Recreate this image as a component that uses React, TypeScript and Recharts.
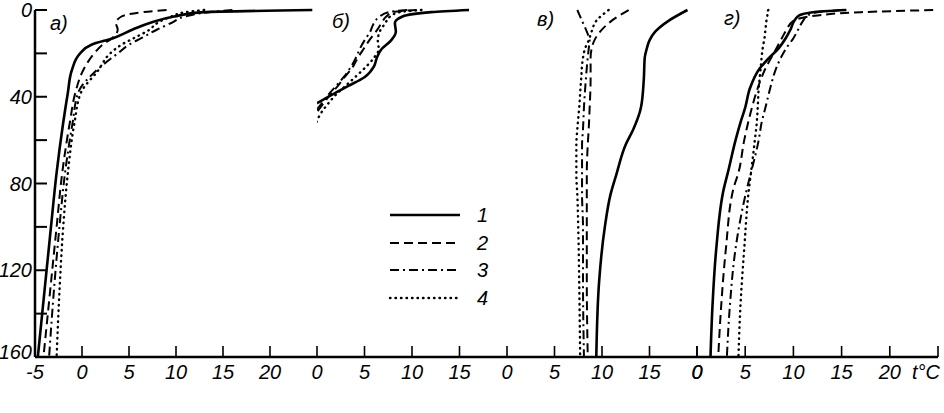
import React from "react";
import { LineChart, Line, XAxis, YAxis } from "recharts";

// depth, m — shared y axis (0 at top)
const DEPTH_TICKS = [0, 20, 40, 60, 80, 100, 120, 140, 160];
const DEPTH_LABELS = [0, 40, 80, 120, 160];

// panel а
const A_DEPTH = [0, 1, 3, 6, 9, 13, 16, 20, 28, 38, 52, 75, 100, 130, 160];
const A_T1 = [24.5, 13, 9.8, 7.2, 5.4, 3.3, 1.0, -0.2, -1.1, -1.5, -2.0, -2.7, -3.3, -4.0, -4.7];
const A_T2 = [9, 6.5, 4.2, 3.6, 3.8, 3.2, 2.2, 1.3, 0.1, -0.7, -1.3, -2.1, -2.7, -3.4, -4.1];
const A_T3 = [16, 13.5, 11, 9.5, 8, 6.3, 5, 3.8, 1.5, -0.4, -1.0, -1.8, -2.4, -3.0, -3.5];
const A_T4 = [13, 11, 9.5, 8, 7.2, 5.5, 4.2, 3.0, 1.7, -0.1, -0.8, -1.5, -2.0, -2.4, -2.7];

// panel б
const B_DEPTH = [0, 1, 3, 6, 10, 14, 18, 22, 26, 31, 35, 39, 43, 47, 52];
const B_T1 = [16, 12, 9, 8.2, 8.3, 7.8, 6.8, 6.3, 6.0, 5.0, 3.3, 1.6, 0, null, null];
const B_T2 = [10.5, 8, 7.3, 6.8, 6.2, 5.5, 4.9, 4.3, 3.8, 2.9, 2.2, 1.4, 0.7, 0, null];
const B_T3 = [9.5, 7.5, 6.6, 6, 5.6, 5, 4.5, 4.1, 3.6, 2.8, 2.0, 1.2, 0.5, -0.2, null];
const B_T4 = [11, 8.7, 7.7, 7.2, 6.6, 6.4, 6.5, 6.0, 5.2, 4.0, 3.0, 2.0, 1.2, 0.5, -0.1];

// panel в
const V_DEPTH = [0, 5, 10, 14, 18, 22, 32, 45, 55, 62, 76, 85, 100, 125, 160];
const V_T1 = [19, 17, 15.6, 15, 14.7, 14.5, 14.4, 14.1, 13.3, 12.5, 11.5, 10.9, 10.3, 9.7, 9.4];
const V_T2 = [12.8, 11, 9.8, 9.2, 8.9, 8.8, 8.8, 8.7, 8.6, 8.5, 8.4, 8.4, 8.4, 8.4, 8.5];
const V_T3 = [7.4, 7.9, 8.4, 8.7, 8.6, 8.5, 8.3, 8.1, 8.0, 7.9, 7.9, 7.9, 8.0, 8.0, 8.1];
const V_T4 = [10.7, 9.4, 8.9, 8.6, 8.2, 8.0, 7.8, 7.6, 7.4, 7.3, 7.3, 7.4, 7.5, 7.6, 7.7];

// panel г
const G_DEPTH = [0, 1, 2.5, 5, 9, 13, 18, 22, 27, 36, 45, 52, 60, 75, 82, 110, 137, 160];
const G_T1 = [15.5, 12, 10.6, 10.1, 9.7, 9.2, 8.4, 7.5, 6.5, 5.5, 5.0, 4.5, 4.0, 3.2, 2.8, 2.0, 1.6, 1.4];
const G_T2 = [24.5, 17, 12.5, 10.0, 9.3, 8.8, 8.2, 7.7, 7.1, 6.3, 5.7, 5.3, 4.9, 4.3, 3.8, 3.0, 2.5, 2.2];
const G_T3 = [15, 12.5, 11.5, 11.0, 10.5, 10.0, 9.2, 8.7, 8.2, 7.6, 7.1, 6.7, 6.4, 5.6, 5.2, 4.0, 3.4, 3.1];
const G_T4 = [7.4, 7.3, 7.3, 7.2, 7.1, 7.0, 6.8, 6.7, 6.6, 6.4, 6.3, 6.2, 6.0, 5.6, 5.4, 4.9, 4.5, 4.3];

const SERIES_NAMES = ["1", "2", "3", "4"];

// the shared boundary tick (end of one panel) carries the next panel's "0"
const PANELS = [
  { title: "а)", depth: A_DEPTH, series: [A_T1, A_T2, A_T3, A_T4], domain: [-5, 25], ticks: [-5, 0, 5, 10, 15, 20] },
  { title: "б)", depth: B_DEPTH, series: [B_T1, B_T2, B_T3, B_T4], domain: [0, 20], ticks: [0, 5, 10, 15] },
  { title: "в)", depth: V_DEPTH, series: [V_T1, V_T2, V_T3, V_T4], domain: [0, 20], ticks: [0, 5, 10, 15, 20] },
  { title: "г)", depth: G_DEPTH, series: [G_T1, G_T2, G_T3, G_T4], domain: [0, 25], ticks: [0, 5, 10, 15, 20, 25] },
];

// layout of the four panels (pixels)
const BOXES = [
  { left: 0, width: 332, ml: 5, mr: 15, titleX: 50, titleY: 12 },
  { left: 302, width: 220, ml: 15, mr: 15, titleX: 332, titleY: 10 },
  { left: 492, width: 220, ml: 15, mr: 15, titleX: 537, titleY: 8 },
  { left: 682, width: 262, ml: 15, mr: 6, titleX: 724, titleY: 7 },
];

const INK = "#000";
const FONT = "'Liberation Sans', Arial, sans-serif";

const STYLES = [
  { w: 2.6, dash: undefined, cap: "butt" },
  { w: 2, dash: "9 5", cap: "butt" },
  { w: 2, dash: "9 4 2 4", cap: "butt" },
  { w: 2.4, dash: "0.5 5", cap: "round" },
];

function renderXTick(props: any, idx: number) {
  const { x, y, payload } = props;
  const v = payload.value;
  const max = PANELS[idx].domain[1];
  const isEnd = v === max;
  const isUnit = isEnd && idx === PANELS.length - 1;
  const label = isUnit ? "t°C" : isEnd ? "0" : String(v);
  return (
    <text
      x={isUnit ? x + 2 : x}
      y={y}
      dy="0.71em"
      textAnchor={isUnit ? "end" : "middle"}
      fontSize={20}
      fontStyle="italic"
      fontFamily={FONT}
      fill={INK}
    >
      {label}
    </text>
  );
}

function renderYTick(props: any) {
  const { x, y, payload } = props;
  if (!DEPTH_LABELS.includes(payload.value)) return <g />;
  const shift = payload.value === 160 ? -5 : 0;
  return (
    <text x={x} y={y + shift} dy="0.35em" textAnchor="end" fontSize={20} fontStyle="italic" fontFamily={FONT} fill={INK}>
      {payload.value}
    </text>
  );
}

function Panel({ idx }: { idx: number }) {
  const p = PANELS[idx];
  const b = BOXES[idx];
  const first = idx === 0;
  return (
    <div style={{ position: "absolute", left: b.left, top: 0 }}>
      <LineChart
        layout="vertical"
        width={b.width}
        height={413}
        margin={{ top: 10, bottom: 26, left: b.ml, right: b.mr }}
      >
        <XAxis
          type="number"
          domain={p.domain}
          ticks={p.ticks}
          interval={0}
          allowDataOverflow
          tickSize={-11}
          tickMargin={19}
          axisLine={{ stroke: INK, strokeWidth: 2.5 }}
          tickLine={{ stroke: INK, strokeWidth: 1.6 }}
          tick={(props: any) => renderXTick(props, idx)}
        />
        <YAxis
          type="number"
          dataKey="d"
          domain={[0, 160]}
          ticks={DEPTH_TICKS}
          interval={0}
          hide={!first}
          width={30}
          tickSize={-12}
          tickMargin={15}
          axisLine={{ stroke: INK, strokeWidth: 2.5 }}
          tickLine={{ stroke: INK, strokeWidth: 2 }}
          tick={renderYTick}
        />
        {p.series.map((vals, si) => (
          <Line
            key={si}
            name={SERIES_NAMES[si]}
            data={p.depth.map((d, i) => ({ d, t: vals[i] }))}
            dataKey="t"
            type="monotone"
            stroke={INK}
            strokeWidth={STYLES[si].w}
            strokeDasharray={STYLES[si].dash}
            strokeLinecap={STYLES[si].cap as any}
            dot={false}
            activeDot={false}
            isAnimationActive={false}
          />
        ))}
      </LineChart>
      <div
        style={{
          position: "absolute",
          left: b.titleX - b.left,
          top: b.titleY,
          fontFamily: FONT,
          fontStyle: "italic",
          fontSize: 20,
          lineHeight: "23px",
          color: INK,
        }}
      >
        {p.title}
      </div>
    </div>
  );
}

function LegendBox() {
  const rows = [215, 243, 270, 298];
  return (
    <svg width={120} height={110} style={{ position: "absolute", left: 380, top: 200 }}>
      {SERIES_NAMES.map((n, i) => (
        <g key={n}>
          <line
            x1={10}
            x2={80}
            y1={rows[i] - 200}
            y2={rows[i] - 200}
            stroke={INK}
            strokeWidth={STYLES[i].w}
            strokeDasharray={STYLES[i].dash}
            strokeLinecap={STYLES[i].cap as any}
          />
          <text x={97} y={rows[i] - 200} dy="0.35em" fontSize={20} fontStyle="italic" fontFamily={FONT} fill={INK}>
            {n}
          </text>
        </g>
      ))}
    </svg>
  );
}

export default function App() {
  return (
    <div style={{ position: "absolute", left: 0, top: 0, width: 944, height: 413, background: "#fff", overflow: "hidden" }}>
      {PANELS.map((_, i) => (
        <Panel key={i} idx={i} />
      ))}
      <LegendBox />
    </div>
  );
}
